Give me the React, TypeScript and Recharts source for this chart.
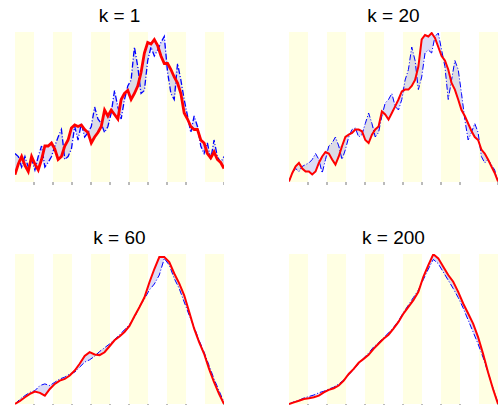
import React from 'react'
import { ComposedChart, Line, Area, XAxis, YAxis, ReferenceArea } from 'recharts'

// k = 1 (noisy)
const red1 = [4.9, 12, 17, 11, 7, 17, 12, 8, 15, 24, 24, 26, 22, 15, 17, 24, 28, 36, 38, 37, 38, 35, 33, 26, 30, 33, 37, 48, 44, 48, 45, 42, 55, 59, 61, 55, 59, 64, 73, 86, 93, 92, 95, 91, 84, 79, 79, 75, 70, 66, 59, 46, 42, 37, 35, 35, 28, 26, 19, 16, 20, 15, 13, 9]
const blue1 = [19, 17, 10, 17, 10, 15, 8, 17, 24, 10, 13, 17, 24, 30, 35, 15, 17, 22, 37, 28, 39, 30, 33, 37, 50, 42, 39, 33, 37, 46, 61, 50, 42, 55, 64, 68, 90, 77, 59, 61, 81, 90, 84, 88, 93, 97, 73, 59, 55, 79, 68, 55, 44, 33, 44, 37, 24, 19, 26, 15, 28, 17, 13, 17]

// k = 20
const red20 = [0.4, 6, 10.4, 12.7, 9, 7, 7, 5, 7, 12.7, 17, 20, 19, 15, 11.6, 17, 24, 30, 31.6, 32.7, 35, 35, 33.8, 28, 26, 31.6, 35, 37, 47, 45, 41.6, 46, 50.4, 55, 60.4, 61.6, 61.6, 64, 68, 77, 95, 98, 97, 99.3, 96, 90, 84, 81, 75, 66, 61.6, 55, 48, 44, 39, 34, 30, 28, 21.6, 19, 15, 10.4, 6, 0.4]
const blue20 = [0.4, 6, 9, 7, 10.4, 11.6, 12.7, 15, 19, 15, 6, 15, 24, 26, 30, 24, 15, 21.6, 30, 35, 36, 30, 31.6, 39, 46, 39, 30, 33, 44, 52.7, 55, 59, 50.4, 48, 55, 68, 75, 90, 81, 61.6, 70, 86, 88, 86, 97, 99.3, 88, 77, 55, 68, 81, 75, 59, 41.6, 28, 33, 39, 33, 17, 12.7, 15, 11.6, 8, 0.4]

// k = 60
const red60 = [0, 2, 4.5, 6.7, 8.3, 7.4, 5.6, 10, 13.4, 15.6, 16.7, 19, 22.3, 26.8, 32, 34.6, 33, 32.6, 34.5, 38.5, 42.5, 45, 48, 52, 58.5, 64.5, 71, 81, 90, 98, 98, 94.6, 87, 80.4, 72.5, 61.4, 50.2, 41.3, 33.5, 23.4, 14.5, 6.7, 0]
const blue60 = [0, 3.3, 5.6, 7.8, 8.9, 12.3, 13.4, 12.3, 14.5, 16.7, 17.9, 20, 21.2, 24.6, 27.9, 29.5, 31.8, 35, 37.5, 40, 43, 46, 49.5, 53, 57.5, 65, 70, 76, 80, 86, 97, 92.6, 83.7, 77, 68, 59.2, 51.3, 42.4, 34.6, 25.7, 16.7, 8.9, 1.1]

// k = 200
const red200 = [0, 1.1, 2.2, 3.3, 3.8, 4.5, 5.6, 7.8, 9.4, 10.5, 12.3, 15.6, 20, 23.4, 27.5, 30.1, 32.8, 36.8, 40.2, 43.5, 46.2, 50.2, 54.7, 60.3, 64.7, 69.2, 74.8, 84.8, 92.6, 99.8, 97.1, 91.5, 86, 81.5, 74.8, 67, 60.3, 53.6, 44.6, 33.5, 21.2, 10, 0]
const blue200 = [0, 1.5, 2.5, 4, 5, 6, 7.5, 8.5, 10, 11.2, 13.4, 16, 19.5, 23, 27, 30.5, 34, 38, 41, 44, 47.5, 51, 55.5, 61, 66, 71, 76, 83, 90, 96.4, 93.5, 88, 82.5, 77, 71, 64, 56, 48, 40, 31, 21, 10.5, 0.5]

const titles = ['k = 1', 'k = 20', 'k = 60', 'k = 200']
const ticks = [0, 1, 2, 3, 4, 5, 6, 7, 8, 9, 10, 11]
const bands = [[0, 1], [2, 3], [4, 5], [6, 7], [8, 9], [10, 11]]

const PLOT_W = 209
const PLOT_H = 150

// tick lines only, no labels
const NoLabel = () => <g />

interface PanelProps {
  title: string
  red: number[]
  blue: number[]
  left: number
  top: number
  redWidth?: number
  blueWidth?: number
}

const Panel: React.FC<PanelProps> = ({ title, red, blue, left, top, redWidth = 2, blueWidth = 1 }) => {
  const n = red.length
  const rows = red.map((r, i) => ({
    x: (i * 11) / (n - 1),
    red: r,
    blue: blue[i],
    band: [Math.min(r, blue[i]), Math.max(r, blue[i])]
  }))

  return (
    <>
      <div
        style={{
          position: 'absolute',
          left,
          top: top - 26,
          width: PLOT_W,
          textAlign: 'center',
          fontFamily: '"Liberation Sans", Arial, sans-serif',
          fontSize: 19,
          lineHeight: '19px',
          color: '#000'
        }}
      >
        {title}
      </div>
      <div style={{ position: 'absolute', left, top }}>
        <ComposedChart width={PLOT_W} height={PLOT_H + 5} data={rows} margin={{ top: 0, right: 0, bottom: 0, left: 0 }}>
          <XAxis
            dataKey="x"
            type="number"
            domain={[0, 11]}
            ticks={ticks}
            tick={<NoLabel />}
            tickSize={3}
            tickLine={{ stroke: '#777' }}
            axisLine={false}
            height={5}
          />
          <YAxis hide domain={[0, 100]} />
          {bands.map(([a, b]) => (
            <ReferenceArea key={a} x1={a} x2={b} fill="#ffffe3" fillOpacity={1} stroke="none" />
          ))}
          <Area
            dataKey="band"
            type="linear"
            stroke="none"
            fill="#a8a8e8"
            fillOpacity={0.4}
            isAnimationActive={false}
          />
          <Line
            dataKey="blue"
            type="linear"
            stroke="#0000ff"
            strokeWidth={blueWidth}
            strokeDasharray="6 2 1 2"
            dot={false}
            isAnimationActive={false}
          />
          <Line
            dataKey="red"
            type="linear"
            stroke="#ff0000"
            strokeWidth={redWidth}
            dot={false}
            isAnimationActive={false}
          />
        </ComposedChart>
      </div>
    </>
  )
}

export default function App() {
  return (
    <div style={{ position: 'absolute', left: 0, top: 0, width: 499, height: 405, background: '#fff', overflow: 'hidden' }}>
      <Panel title={titles[0]} red={red1} blue={blue1} left={15} top={32} redWidth={2.8} blueWidth={1.3} />
      <Panel title={titles[1]} red={red20} blue={blue20} left={289} top={32} />
      <Panel title={titles[2]} red={red60} blue={blue60} left={15} top={254} />
      <Panel title={titles[3]} red={red200} blue={blue200} left={289} top={254} />
    </div>
  )
}
